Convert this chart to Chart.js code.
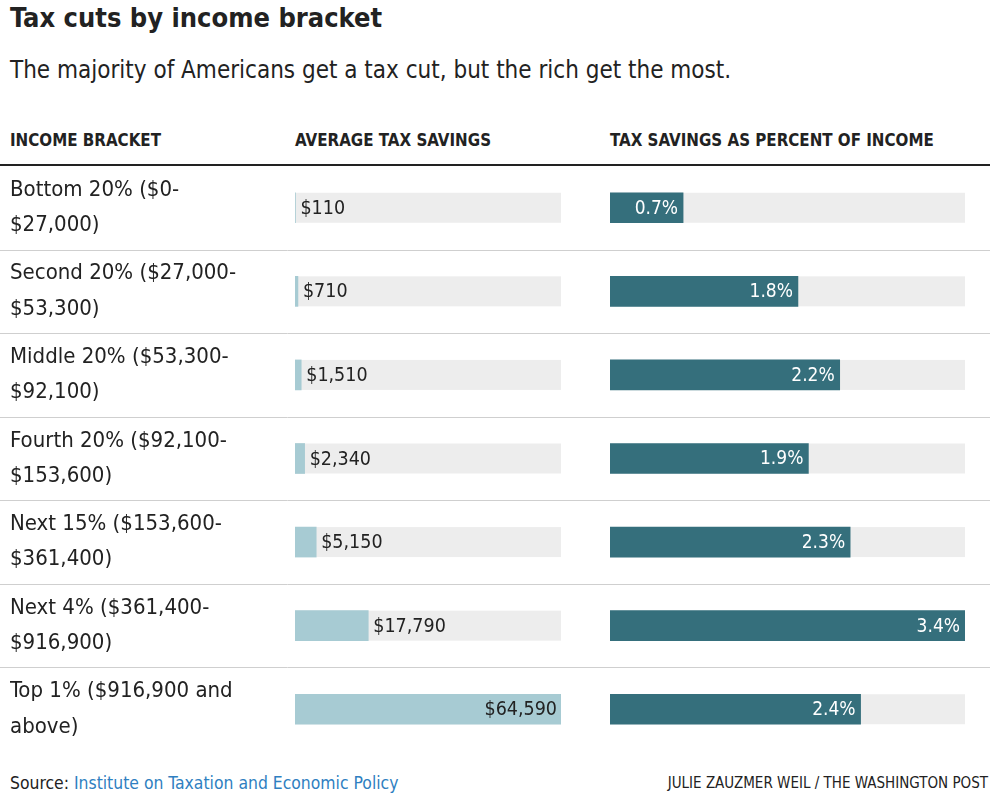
<!DOCTYPE html>
<html><head><meta charset="utf-8">
<script src="https://cdn.jsdelivr.net/npm/chart.js@4"></script>
<style>
html,body{margin:0;padding:0;background:#fff;width:1000px;height:802px;overflow:hidden;}
body{position:relative;font-family:"DejaVu Sans Condensed","Liberation Sans Narrow",Roboto,sans-serif;color:#222;}
.t{position:absolute;white-space:nowrap;}
#title{left:10px;top:2px;font-size:27px;font-weight:bold;}
#sub{left:10px;top:56px;font-size:24px;color:#222;}
.hd{top:130px;font-size:16.8px;font-weight:bold;}
#rule{position:absolute;left:0;top:164px;width:990px;height:2px;background:#222;}
#cA{position:absolute;left:0;top:166px;}
#cB{position:absolute;left:575px;top:166px;}
#src{left:10px;top:773px;font-size:17.4px;}
#src span{color:#2f7fc1;}
#credit{right:12px;top:774px;font-size:15px;}
</style></head>
<body>
<div class="t" id="title">Tax cuts by income bracket</div>
<div class="t" id="sub">The majority of Americans get a tax cut, but the rich get the most.</div>
<div class="t hd" style="left:10px">INCOME BRACKET</div>
<div class="t hd" style="left:295px">AVERAGE TAX SAVINGS</div>
<div class="t hd" style="left:610px">TAX SAVINGS AS PERCENT OF INCOME</div>
<div id="rule"></div>
<div id="cA" style="width:575px;height:585px"><canvas id="a"></canvas></div>
<div id="cB" style="width:425px;height:585px"><canvas id="b"></canvas></div>
<div class="t" id="src">Source: <span>Institute on Taxation and Economic Policy</span></div>
<div class="t" id="credit">JULIE ZAUZMER WEIL / THE WASHINGTON POST</div>
<script>
const brackets = [
  ["Bottom 20% ($0-", "$27,000)"],
  ["Second 20% ($27,000-", "$53,300)"],
  ["Middle 20% ($53,300-", "$92,100)"],
  ["Fourth 20% ($92,100-", "$153,600)"],
  ["Next 15% ($153,600-", "$361,400)"],
  ["Next 4% ($361,400-", "$916,900)"],
  ["Top 1% ($916,900 and", "above)"]
];
const avgSavings = [110, 710, 1510, 2340, 5150, 17790, 64590];
const pctIncome = [0.7, 1.8, 2.2, 1.9, 2.3, 3.4, 2.4];

const FONT = '"DejaVu Sans Condensed","Liberation Sans Narrow",Roboto,sans-serif';
Chart.defaults.font.family = FONT;
Chart.defaults.color = '#222';

function sepPlugin(lineWidthPx) {
  return {
    id: 'seps',
    beforeDatasetsDraw(chart) {
      const ctx = chart.ctx, ys = chart.scales.y;
      const meta = chart.getDatasetMeta(0);
      ctx.save();
      ctx.fillStyle = '#ededed';
      meta.data.forEach(bar => {
        ctx.fillRect(chart.chartArea.left, bar.y - bar.height / 2, chart.chartArea.right - chart.chartArea.left, bar.height);
      });
      ctx.strokeStyle = '#cfcfcf';
      ctx.lineWidth = 1;
      for (let i = 0; i < ys.ticks.length - 1; i++) {
        const y = Math.round((ys.getPixelForValue(i) + ys.getPixelForValue(i + 1)) / 2) + 0.5;
        ctx.beginPath(); ctx.moveTo(0, y); ctx.lineTo(lineWidthPx, y); ctx.stroke();
      }
      ctx.restore();
    }
  };
}

const valueLabelsA = {
  id: 'valsA',
  afterDatasetsDraw(chart) {
    const ctx = chart.ctx, meta = chart.getDatasetMeta(0);
    ctx.save();
    ctx.font = '19.5px ' + FONT;
    ctx.textBaseline = 'middle';
    ctx.fillStyle = '#222';
    meta.data.forEach((bar, i) => {
      const txt = '$' + avgSavings[i].toLocaleString('en-US');
      const w = ctx.measureText(txt).width;
      if (bar.x + 5 + w > chart.chartArea.right) {
        ctx.textAlign = 'right';
        ctx.fillText(txt, bar.x - 4, bar.y + 1);
      } else {
        ctx.textAlign = 'left';
        ctx.fillText(txt, bar.x + 5, bar.y + 1);
      }
    });
    ctx.restore();
  }
};
const valueLabelsB = {
  id: 'valsB',
  afterDatasetsDraw(chart) {
    const ctx = chart.ctx, meta = chart.getDatasetMeta(0);
    ctx.save();
    ctx.font = '19px ' + FONT;
    ctx.textBaseline = 'middle';
    ctx.fillStyle = '#fff';
    ctx.textAlign = 'right';
    meta.data.forEach((bar, i) => {
      ctx.fillText(pctIncome[i].toFixed(1) + '%', bar.x - 5, bar.y + 1);
    });
    ctx.restore();
  }
};

new Chart(document.getElementById('a'), {
  type: 'bar',
  data: { labels: brackets, datasets: [{ data: avgSavings, backgroundColor: '#a7cbd3', barThickness: 30 }] },
  options: {
    indexAxis: 'y', responsive: true, maintainAspectRatio: false, animation: false,
    layout: { padding: { left: 10, right: 14, top: 0, bottom: 0 } },
    plugins: { legend: { display: false }, tooltip: { enabled: false } },
    scales: {
      x: { display: false, min: 0, max: 64590 },
      y: {
        offset: true,
        grid: { display: false },
        border: { display: false },
        afterFit(s) { s.width = 285; s.paddingTop = 0; s.paddingBottom = 0; },
        ticks: { crossAlign: 'far', color: '#222', font: { size: 22, lineHeight: 1.6 }, padding: 0 }
      }
    }
  },
  plugins: [sepPlugin(575), valueLabelsA]
});

new Chart(document.getElementById('b'), {
  type: 'bar',
  data: { labels: brackets, datasets: [{ data: pctIncome, backgroundColor: '#356f7c', barThickness: 30 }] },
  options: {
    indexAxis: 'y', responsive: true, maintainAspectRatio: false, animation: false,
    layout: { padding: { left: 35, right: 35, top: 0, bottom: 0 } },
    plugins: { legend: { display: false }, tooltip: { enabled: false } },
    scales: {
      x: { display: false, min: 0, max: 3.4 },
      y: { display: false, offset: true }
    }
  },
  plugins: [sepPlugin(415), valueLabelsB]
});
</script>
</body></html>
